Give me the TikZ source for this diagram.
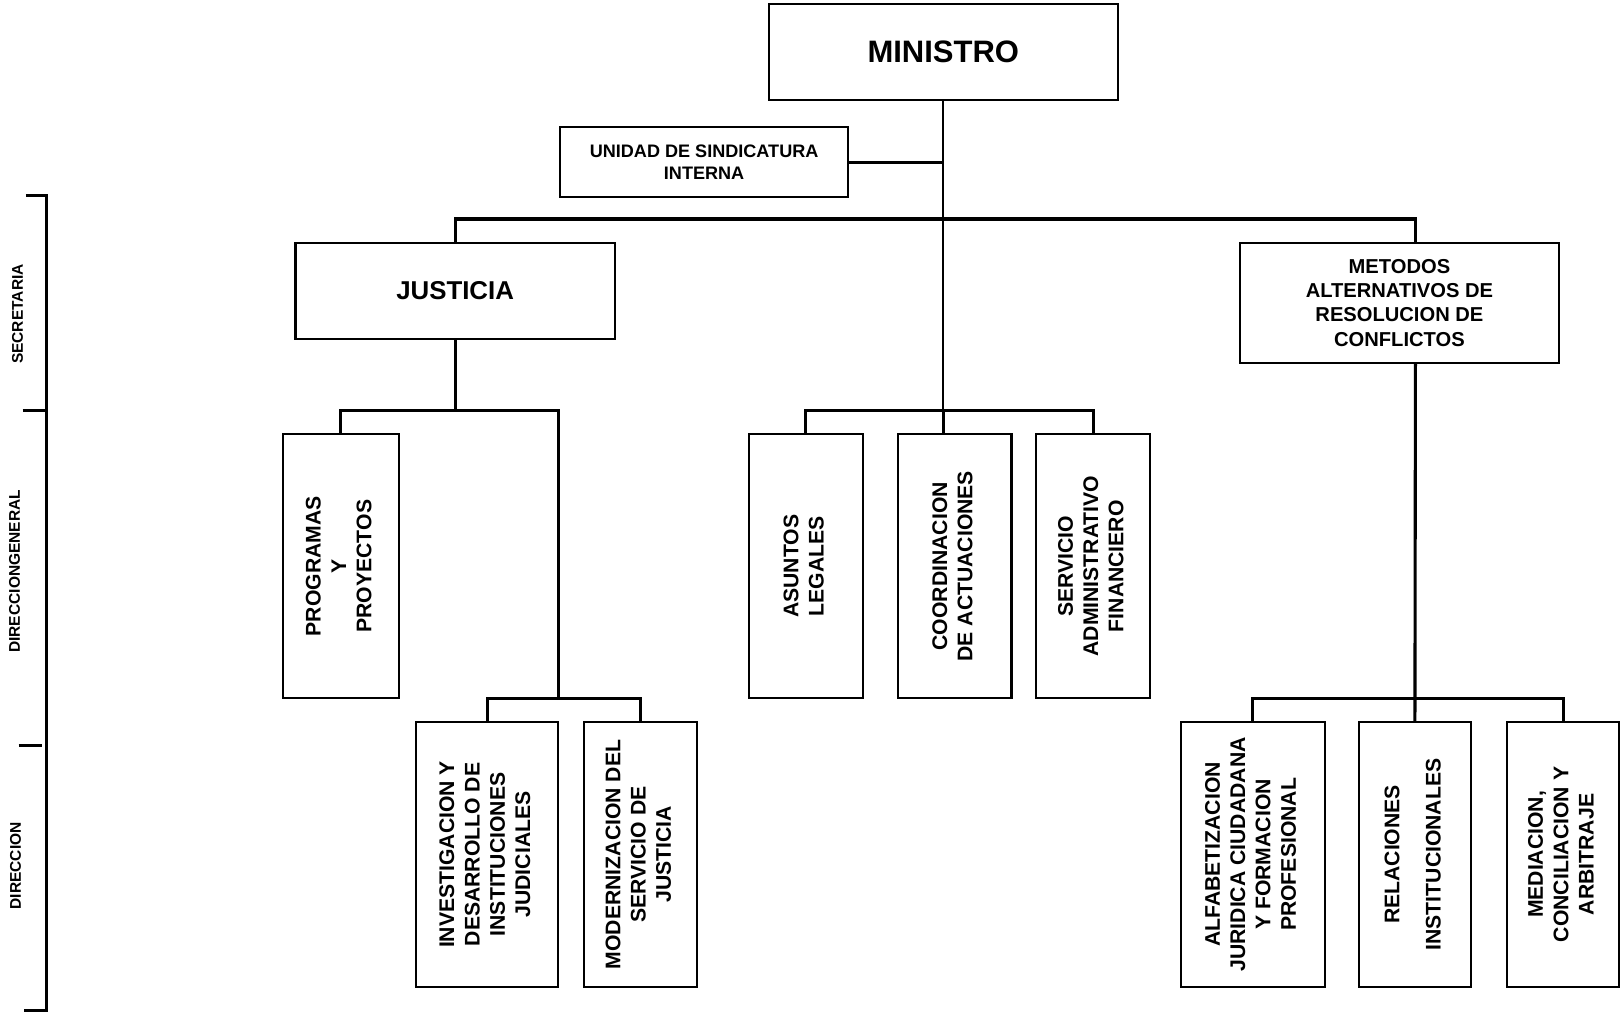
\documentclass[tikz,border=0pt]{standalone}
\usepackage{fontspec}
\setmainfont{Liberation Sans}
\usepackage{graphicx}
\colorlet{rulecolor}{black}
\newcommand{\uptext}[1]{\rotatebox{90}{\begin{tabular}{@{}c@{}}#1\end{tabular}}}
\tikzset{
	box/.style={
		,draw			= rulecolor
		,rectangle
		,line width		= 2pt
		,inner sep		= 0pt
		,align			= center
	}
	,big/.style		 = {font=\fontsize{30}{34}\selectfont\bfseries}
	,mid/.style		 = {font=\fontsize{25}{29}\selectfont\bfseries}
	,small/.style	 = {font=\fontsize{17.5}{21}\selectfont\bfseries}
	,head/.style	 = {font=\fontsize{19.5}{23.5}\selectfont\bfseries}
	,unit/.style	 = {font=\fontsize{20.5}{24.5}\selectfont\bfseries, minimum height=256pt}
	,side/.style	 = {font=\fontsize{15}{18}\selectfont\bfseries, rotate=90, inner sep=0pt}
	,link/.style	 = {draw=rulecolor, line width=3pt}
	,thin link/.style = {draw=rulecolor, line width=2pt}
}
\begin{document}
\begin{tikzpicture}[x=1pt, y=-1pt]
	\useasboundingbox (0,0) rectangle (1568,981);

	% the boxes
	\node[box, big, minimum width=338pt, minimum height=93pt] (min) at (913,50.5) {MINISTRO};
	\node[box, small, minimum width=279pt, minimum height=68pt] (uni) at (681.5,157) {UNIDAD DE SINDICATURA\\INTERNA};
	\node[box, mid, minimum width=309pt, minimum height=93pt] (jus) at (440.5,281.5) {JUSTICIA};
	\node[box, head, minimum width=309pt, minimum height=116pt] (met) at (1354.5,293) {METODOS\\ALTERNATIVOS DE\\RESOLUCION DE\\CONFLICTOS};

	\node[box, unit, minimum width=112pt] (pro) at (330,548) {\uptext{PROGRAMAS\\Y\\PROYECTOS}};
	\node[box, unit, minimum width=110pt] (ase) at (780,548) {\uptext{ASUNTOS\\LEGALES}};
	\node[box, unit, minimum width=110pt] (coo) at (924,548) {\uptext{COORDINACION\\DE ACTUACIONES}};
	\node[box, unit, minimum width=110pt] (sev) at (1058,548) {\uptext{SERVICIO\\ADMINISTRATIVO\\FINANCIERO}};

	\node[box, unit, minimum width=137pt] (inv) at (471.5,827) {\uptext{INVESTIGACION Y\\DESARROLLO DE\\INSTITUCIONES\\JUDICIALES}};
	\node[box, unit, minimum width=110pt] (mod) at (620,827) {\uptext{MODERNIZACION DEL\\SERVICIO DE\\JUSTICIA}};
	\node[box, unit, minimum width=139pt] (alf) at (1212.5,827) {\uptext{ALFABETIZACION\\JURIDICA CIUDADANA\\Y FORMACION\\PROFESIONAL}};
	\node[box, unit, minimum width=109pt] (rel) at (1369.5,827) {\uptext{RELACIONES\\[15.5pt]INSTITUCIONALES}};
	\node[box, unit, minimum width=108pt] (med) at (1513,827) {\uptext{MEDIACION,\\CONCILIACION Y\\ARBITRAJE}};

	% the bus points
	\coordinate (topbus) at (913,212);
	\coordinate (midbus) at (913,397);
	\coordinate (jbus) at (541,397);
	\coordinate (lbus) at (541,676);
	\coordinate (rbus) at (1370,676);

	% the links
	\draw[thin link] (min.south) -- (midbus);
	\draw[link] (uni.east) -- (uni.east -| min.south);
	\draw[link] (jus.north) |- (topbus) -| ([xshift=15.5pt]met.north);
	\draw[link] (jus.south) -- (jus.south |- jbus);
	\draw[link] (pro.north) |- (jbus) -- (lbus);
	\draw[link] (inv.north) |- (lbus) -| (mod.north);
	\draw[link] (ase.north) |- (midbus) -| (sev.north);
	\draw[link] (midbus) -- (midbus |- coo.north);
	\draw[link] ([xshift=15.5pt]met.south) -- (rel.north);
	\draw[link] (alf.north) |- (rbus) -| (med.north);

	% the levels on the left
	\draw[link] (25,189) -- (45,189) -- (45,978) -- (23,978);
	\draw[link] (22,397) -- (45,397);
	\draw[link] (18,722) -- (41,722);
	\node[side] (sec) at (17,304) {SECRETARIA};
	\node[side] (dgl) at (14,553) {DIRECCIONGENERAL};
	\node[side] (dir) at (15,838) {DIRECCION};
\end{tikzpicture}
\end{document}
